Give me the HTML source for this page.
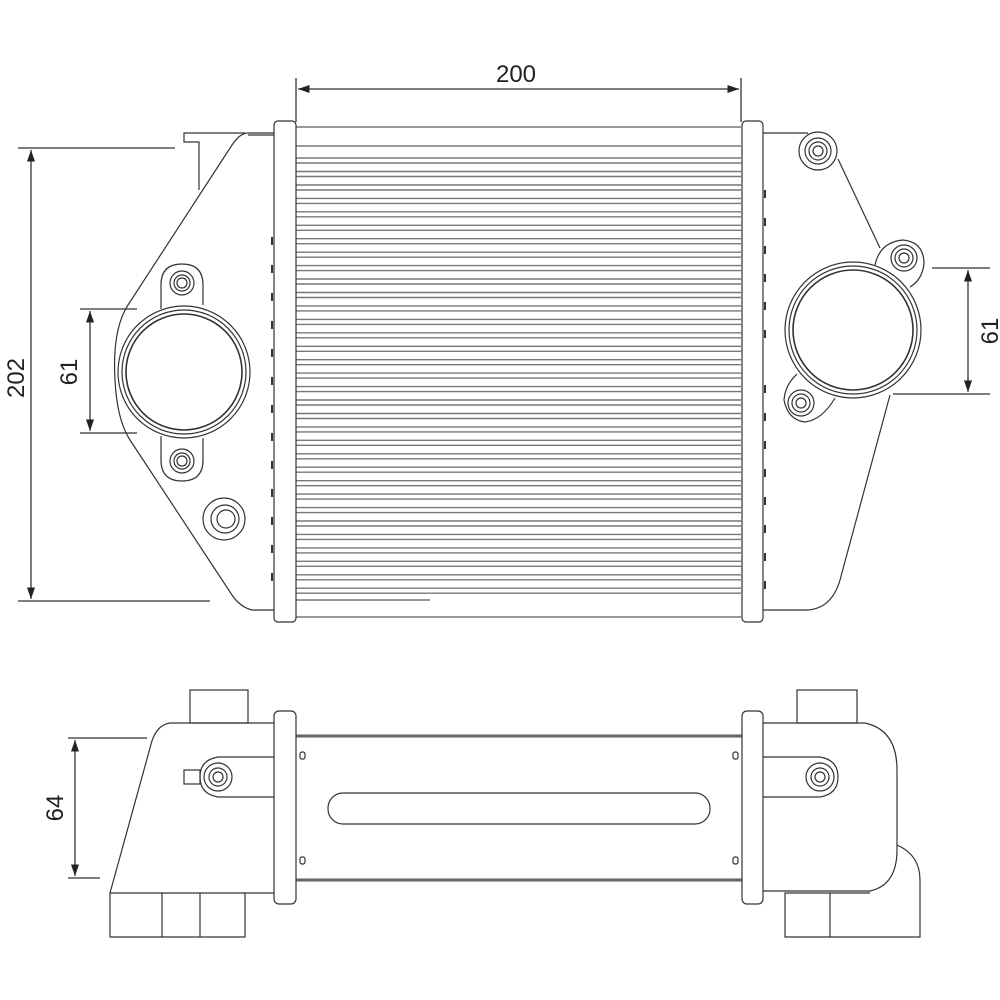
<!DOCTYPE html>
<html><head><style>html,body{margin:0;padding:0;background:#fff}svg{display:block}</style></head>
<body>
<svg width="1000" height="1000" viewBox="0 0 1000 1000" xmlns="http://www.w3.org/2000/svg" font-family="Liberation Sans, sans-serif">
<defs>
<marker id="a" viewBox="0 0 10 10" refX="10" refY="5" markerWidth="9" markerHeight="9" orient="auto-start-reverse"><path d="M0,1.5 L10,5 L0,8.5 z" fill="#222"/></marker>
</defs>
<g stroke="#333" fill="none" stroke-width="1.3">
<line x1="296" y1="78" x2="296" y2="122"/><line x1="741" y1="78" x2="741" y2="122"/>
<line x1="298" y1="89" x2="739" y2="89" marker-start="url(#a)" marker-end="url(#a)"/>
<line x1="18" y1="148" x2="175" y2="148"/><line x1="18" y1="601" x2="210" y2="601"/>
<line x1="31" y1="150" x2="31" y2="599" marker-start="url(#a)" marker-end="url(#a)"/>
<line x1="80" y1="309" x2="137" y2="309"/><line x1="80" y1="433" x2="137" y2="433"/>
<line x1="90" y1="311" x2="90" y2="431" marker-start="url(#a)" marker-end="url(#a)"/>
<line x1="932" y1="268" x2="990" y2="268"/><line x1="893" y1="394" x2="990" y2="394"/>
<line x1="968" y1="270" x2="968" y2="392" marker-start="url(#a)" marker-end="url(#a)"/>
<line x1="68" y1="738" x2="147" y2="738"/><line x1="68" y1="878" x2="100" y2="878"/>
<line x1="75" y1="740" x2="75" y2="876" marker-start="url(#a)" marker-end="url(#a)"/>
</g>
<g fill="#222" font-size="24">
<text x="516" y="82" text-anchor="middle">200</text>
<text transform="translate(24,378) rotate(-90)" text-anchor="middle">202</text>
<text transform="translate(77,372) rotate(-90)" text-anchor="middle">61</text>
<text transform="translate(998,331) rotate(-90)" text-anchor="middle">61</text>
<text transform="translate(63,808) rotate(-90)" text-anchor="middle">64</text>
</g>
<g stroke="#777" stroke-width="1.4" fill="none">
<line x1="296" y1="127" x2="741" y2="127"/><line x1="296" y1="146" x2="741" y2="146"/>
<line x1="296" y1="600" x2="430" y2="600"/><line x1="296" y1="617" x2="741" y2="617"/>
<path d="M296 158H741M296 163H741M296 171.5H741M296 176.5H741M296 185H741M296 190H741M296 198.4H741M296 203.4H741M296 211.8H741M296 216.8H741M296 225.3H741M296 230.3H741M296 238.7H741M296 243.7H741M296 252.2H741M296 257.2H741M296 265.6H741M296 270.6H741M296 279H741M296 284H741M296 292.5H741M296 297.5H741M296 305.9H741M296 310.9H741M296 319.4H741M296 324.4H741M296 332.8H741M296 337.8H741M296 346.3H741M296 351.3H741M296 359.7H741M296 364.7H741M296 373.1H741M296 378.1H741M296 386.6H741M296 391.6H741M296 400H741M296 405H741M296 413.5H741M296 418.5H741M296 426.9H741M296 431.9H741M296 440.3H741M296 445.3H741M296 453.8H741M296 458.8H741M296 467.2H741M296 472.2H741M296 480.7H741M296 485.7H741M296 494.1H741M296 499.1H741M296 507.6H741M296 512.6H741M296 521H741M296 526H741M296 534.4H741M296 539.4H741M296 547.9H741M296 552.9H741M296 561.3H741M296 566.3H741M296 574.8H741M296 579.8H741M296 588.2H741M296 593.2H741"/>
</g>
<g stroke="#333" fill="none" stroke-width="1.2">
<rect x="274" y="121" width="22" height="501" rx="4" fill="#fff"/>
<rect x="742" y="121" width="21" height="501" rx="4" fill="#fff"/>
<path d="M274 133 H248 Q240 133 232 145 L128 305 Q112 330 115 380 Q117 420 130 440 L232 595 Q240 607 252 610 H274"/>
<path d="M274 135 H248 M245 133 H184 V142 H199 V190"/>
<circle cx="184" cy="372" r="66"/><circle cx="184" cy="372" r="62"/><circle cx="184" cy="372" r="58" stroke-width="1.6"/>
<path d="M161 309 V285 Q161 264 182 264 Q203 264 203 285 V305"/>
<circle cx="182" cy="283" r="12"/><circle cx="182" cy="283" r="8"/><circle cx="182" cy="283" r="5"/>
<path d="M161 436 V460 Q161 481 182 481 Q203 481 203 460 V438"/>
<circle cx="182" cy="461" r="12"/><circle cx="182" cy="461" r="8"/><circle cx="182" cy="461" r="5"/>
<circle cx="224" cy="519" r="21"/><circle cx="225" cy="519" r="14"/><circle cx="226" cy="519" r="9"/>
<path d="M763 133 H808"/>
<circle cx="818" cy="151" r="19"/><circle cx="818" cy="151" r="13"/><circle cx="818" cy="151" r="9"/><circle cx="818" cy="151" r="5"/>
<path d="M838 159 L880 248"/>
<path d="M875 265 Q880 242 903 240 Q924 242 924 264 Q922 280 910 287"/>
<circle cx="904" cy="258" r="13"/><circle cx="904" cy="258" r="9"/><circle cx="904" cy="258" r="5"/>
<circle cx="853" cy="330" r="68"/><circle cx="853" cy="330" r="64"/><circle cx="853" cy="330" r="60" stroke-width="1.6"/>
<path d="M797 374 Q785 385 784 400 Q788 420 805 422 Q822 420 835 398"/>
<circle cx="801" cy="403" r="13"/><circle cx="801" cy="403" r="9"/><circle cx="801" cy="403" r="5"/>
<path d="M890 395 L840 580 Q832 608 808 610 H763"/>
<line x1="296" y1="736" x2="742" y2="736" stroke="#666" stroke-width="3"/>
<line x1="296" y1="880" x2="742" y2="880" stroke="#666" stroke-width="3"/>
<rect x="328" y="793" width="382" height="31" rx="15"/>
<rect x="300" y="752" width="5" height="7" rx="2"/><rect x="300" y="857" width="5" height="7" rx="2"/>
<rect x="733" y="752" width="5" height="7" rx="2"/><rect x="733" y="857" width="5" height="7" rx="2"/>
<rect x="274" y="711" width="22" height="193" rx="5" fill="#fff"/>
<rect x="742" y="711" width="21" height="193" rx="5" fill="#fff"/>
<path d="M274 723 H170 Q155 725 150 748 L110 893 V937 H245 V893 H274"/>
<path d="M110 893 H245 M162 893 V937 M200 893 V937"/>
<rect x="190" y="690" width="58" height="33"/>
<path d="M274 757 H218 Q200 760 200 777 Q200 794 218 797 H274"/>
<rect x="184" y="770" width="16" height="14"/>
<circle cx="218" cy="777" r="14"/><circle cx="218" cy="777" r="9"/><circle cx="218" cy="777" r="5"/>
<path d="M763 723 H865 Q897 730 897 770 V850 Q897 885 870 891 H763"/>
<path d="M897 845 Q920 855 920 880 V937 H785 V893 H870 M830 893 V937"/>
<rect x="797" y="690" width="60" height="33"/>
<path d="M763 757 H820 Q838 760 838 777 Q838 794 820 797 H763"/>
<circle cx="820" cy="777" r="14"/><circle cx="820" cy="777" r="9"/><circle cx="820" cy="777" r="5"/>
</g>
<g stroke="#333" stroke-width="2">
<line x1="272" y1="237" x2="272" y2="245"/><line x1="272" y1="265" x2="272" y2="273"/><line x1="272" y1="293" x2="272" y2="301"/><line x1="272" y1="321" x2="272" y2="329"/><line x1="272" y1="349" x2="272" y2="357"/><line x1="272" y1="377" x2="272" y2="385"/><line x1="272" y1="405" x2="272" y2="413"/><line x1="272" y1="433" x2="272" y2="441"/><line x1="272" y1="461" x2="272" y2="469"/><line x1="272" y1="489" x2="272" y2="497"/><line x1="272" y1="517" x2="272" y2="525"/><line x1="272" y1="545" x2="272" y2="553"/><line x1="272" y1="573" x2="272" y2="581"/>
<line x1="765" y1="190" x2="765" y2="198"/><line x1="765" y1="218" x2="765" y2="226"/><line x1="765" y1="246" x2="765" y2="254"/><line x1="765" y1="274" x2="765" y2="282"/><line x1="765" y1="302" x2="765" y2="310"/><line x1="765" y1="330" x2="765" y2="338"/><line x1="765" y1="385" x2="765" y2="393"/><line x1="765" y1="413" x2="765" y2="421"/><line x1="765" y1="441" x2="765" y2="449"/><line x1="765" y1="469" x2="765" y2="477"/><line x1="765" y1="497" x2="765" y2="505"/><line x1="765" y1="525" x2="765" y2="533"/><line x1="765" y1="553" x2="765" y2="561"/><line x1="765" y1="581" x2="765" y2="589"/>
</g>
</svg>
</body></html>
